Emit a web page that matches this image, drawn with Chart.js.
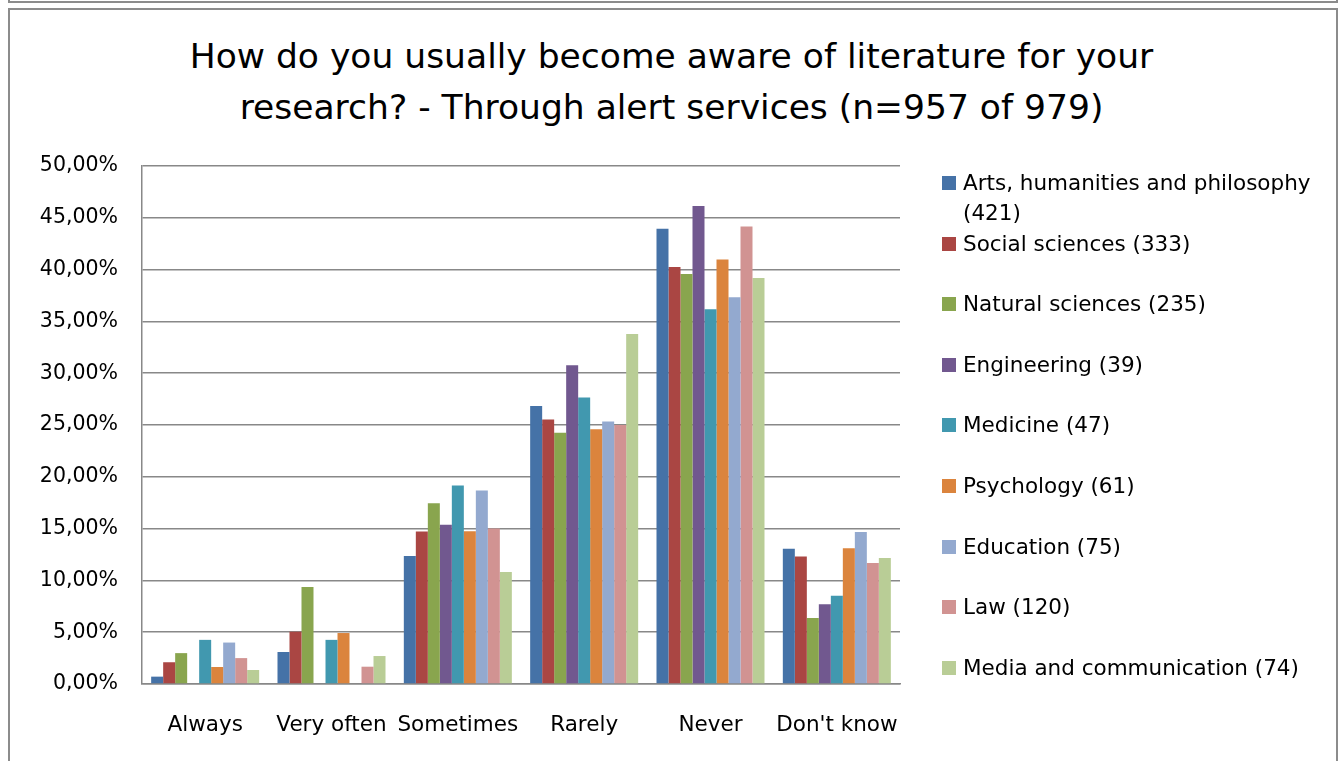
<!DOCTYPE html>
<html>
<head>
<meta charset="utf-8">
<title>Alert services</title>
<script src="https://cdn.jsdelivr.net/npm/chart.js@4.4.1/dist/chart.umd.min.js"></script>
<style>
  body { margin: 0; background: #fff; width: 1343px; height: 761px; overflow: hidden; position: relative; font-family: "DejaVu Sans", sans-serif; }
  #prevBox { position: absolute; left: 8px; top: -20px; width: 1326px; height: 19px; border: 2px solid #8c8c8c; }
  #box { position: absolute; left: 8px; top: 8px; width: 1326px; height: 780px; border: 2px solid #8c8c8c; }
  #title { position: absolute; left: 0; top: 31px; width: 1343px; text-align: center; font-size: 34.5px; line-height: 51px; color: #000; }
  #chartWrap { position: absolute; left: 0; top: 0; width: 1343px; height: 761px; }
  #legend { position: absolute; left: 940px; top: 168px; width: 385px; font-size: 21.5px; line-height: 30.3px; color: #000; }
  .item { position: relative; height: 60.6px; padding-left: 23px; }
  .swatch { position: absolute; left: 2px; top: 8px; width: 14px; height: 14px; }
</style>
</head>
<body>
<div id="prevBox"></div>
<div id="box"></div>
<div id="title">How do you usually become aware of literature for your<br>research? - Through alert services (n=957 of 979)</div>
<div id="chartWrap"><canvas id="chart" width="1343" height="761"></canvas></div>
<div id="legend"></div>
<script>
// Answer categories
const categories = ['Always', 'Very often', 'Sometimes', 'Rarely', 'Never', "Don't know"];

// Share of answers per discipline (%)
const arts = [0.71, 3.09, 12.35, 26.84, 43.94, 13.06];
const social = [2.10, 5.05, 14.71, 25.53, 40.24, 12.31];
const natural = [2.98, 9.36, 17.45, 24.26, 39.57, 6.38];
const engineering = [0, 0, 15.38, 30.77, 46.15, 7.69];
const medicine = [4.26, 4.26, 19.15, 27.66, 36.17, 8.51];
const psychology = [1.64, 4.92, 14.75, 24.59, 40.98, 13.11];
const education = [4.00, 0, 18.67, 25.33, 37.33, 14.67];
const law = [2.50, 1.67, 15.00, 25.00, 44.17, 11.67];
const media = [1.35, 2.70, 10.81, 33.78, 39.19, 12.16];

const seriesNames = [
    'Arts, humanities and philosophy (421)',
    'Social sciences (333)',
    'Natural sciences (235)',
    'Engineering (39)',
    'Medicine (47)',
    'Psychology (61)',
    'Education (75)',
    'Law (120)',
    'Media and communication (74)'
];
const seriesValues = [arts, social, natural, engineering, medicine, psychology, education, law, media];
const colors = ['#4572a7', '#aa4643', '#89a54e', '#71588f', '#4198af', '#db843d', '#93a9cf', '#d19392', '#b9cd96'];

// Y axis ticks
const yMin = 0;
const yMax = 50;
const yStep = 5;

const datasets = seriesNames.map((name, i) => ({
    label: name,
    data: seriesValues[i],
    backgroundColor: colors[i],
    borderWidth: 0
}));

const chart = new Chart(document.getElementById('chart').getContext('2d'), {
    type: 'bar',
    data: { labels: categories, datasets: datasets },
    options: {
        responsive: false,
        animation: false,
        layout: { padding: { left: 20, right: 443, top: 166, bottom: 0 } },
        datasets: { bar: { categoryPercentage: 0.855, barPercentage: 1.0 } },
        plugins: {
            legend: { display: false },
            title: { display: false },
            tooltip: { enabled: false }
        },
        scales: {
            x: {
                grid: { display: false, drawTicks: false },
                border: { display: true, color: '#888', width: 1.5 },
                ticks: {
                    color: '#000',
                    font: { family: 'DejaVu Sans', size: 21.5 },
                    padding: 29,
                    maxRotation: 0,
                    autoSkip: false
                },
                afterFit: function (scale) { scale.height = 77; }
            },
            y: {
                min: yMin,
                max: yMax,
                grid: { color: '#888', lineWidth: 1.5, drawTicks: false },
                border: { display: true, color: '#888', width: 1.5 },
                ticks: {
                    stepSize: yStep,
                    color: '#000',
                    font: { family: 'DejaVu Sans', size: 20.5 },
                    padding: 24,
                    callback: v => v.toFixed(2).replace('.', ',') + '%'
                },
                afterFit: function (scale) { scale.width = 122; }
            }
        }
    }
});

// Build the legend next to the plot
const legend = document.getElementById('legend');
chart.data.datasets.forEach(ds => {
    const item = document.createElement('div');
    item.className = 'item';
    item.innerHTML = `<span class="swatch" style="background:${ds.backgroundColor}"></span>${ds.label}`;
    legend.appendChild(item);
});
</script>
</body>
</html>
